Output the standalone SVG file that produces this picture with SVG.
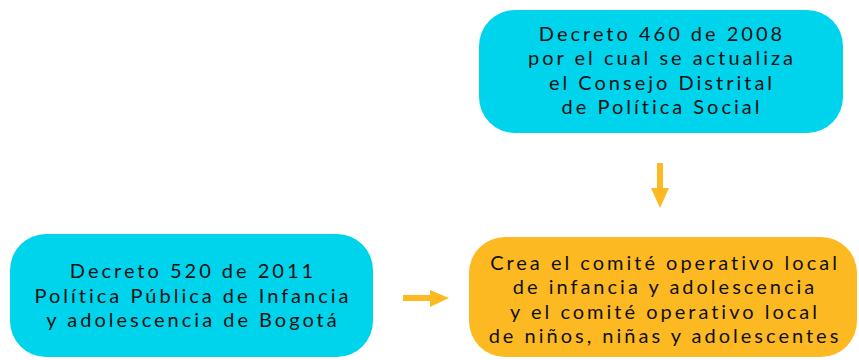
<svg xmlns="http://www.w3.org/2000/svg" width="859" height="360" viewBox="0 0 859 360">
<style>
.blue{fill:#00d4ec}
.orange{fill:#fdb922}
.t{font-family:Lato,"Open Sans",sans-serif;font-size:20px;letter-spacing:3px;fill:#111;text-anchor:middle}
.arrow{fill:#fdb922}
</style>
<rect width="859" height="360" fill="#fff"/>
<g id="n1">
<rect class="blue" x="479" y="10" width="364" height="123" rx="36"/>
<text class="t" x="662" y="41">Decreto 460 de 2008</text>
<text class="t" x="662" y="65">por el cual se actualiza</text>
<text class="t" x="662" y="90">el Consejo Distrital</text>
<text class="t" x="662" y="114">de Política Social</text>
</g>
<g id="n2">
<rect class="blue" x="10" y="234" width="363" height="123" rx="36"/>
<text class="t" x="193" y="278">Decreto 520 de 2011</text>
<text class="t" x="193" y="303">Política Pública de Infancia</text>
<text class="t" x="193" y="327">y adolescencia de Bogotá</text>
</g>
<g id="n3">
<rect class="orange" x="469" y="237" width="388" height="120" rx="36"/>
<text class="t" x="665" y="270">Crea el comité operativo local</text>
<text class="t" x="665" y="294">de infancia y adolescencia</text>
<text class="t" x="665" y="319">y el comité operativo local</text>
<text class="t" x="665" y="343">de niños, niñas y adolescentes</text>
</g>
<g id="connectors">
<polygon class="arrow" points="657,163 663,163 663,188 669,188 660,208 651,188 657,188"/>
<polygon class="arrow" points="403,295 430,295 430,290 449,298 430,307 430,301 403,301"/>
</g>
</svg>
